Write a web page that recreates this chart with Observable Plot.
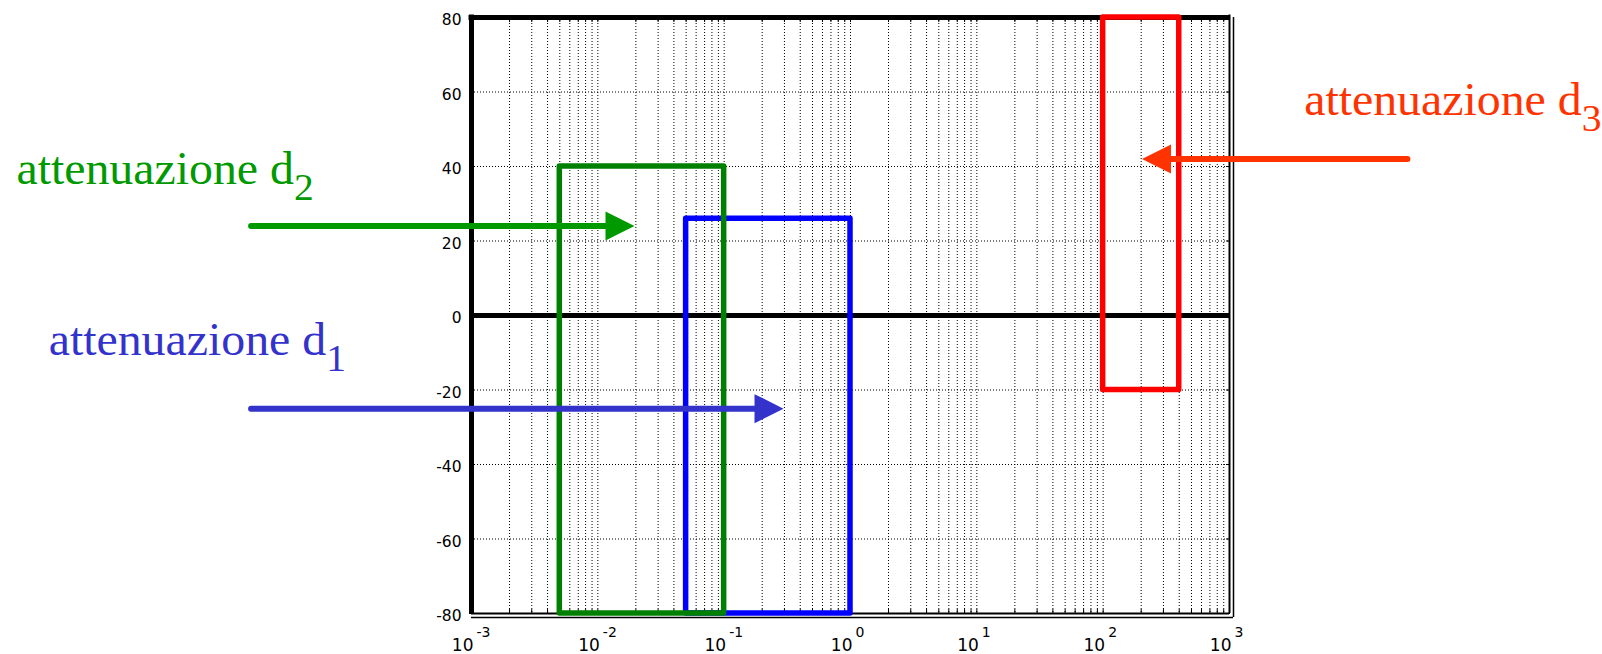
<!DOCTYPE html>
<html><head><meta charset="utf-8">
<script src="https://cdn.jsdelivr.net/npm/d3@7"></script>
<script src="https://cdn.jsdelivr.net/npm/@observablehq/plot@0.6"></script>
<style>html,body{margin:0;padding:0;background:#fff;} svg{display:block;}</style>
</head><body><div id="chart"></div>
<script>
// ---- axis ticks ----
const decades = [1e-3, 1e-2, 1e-1, 1, 10, 100, 1000];
const exponents = ["-3", "-2", "-1", "0", "1", "2", "3"];
const minorMultipliers = [1, 2, 3, 4, 5, 6, 7, 8, 9];
const yTicks = [-80, -60, -40, -20, 0, 20, 40, 60, 80];

// ---- attenuation bands (rectangles) ----
const bandNames = ["d1", "d2", "d3"];
const bandX1 = [0.05, 0.005, 100];
const bandX2 = [1, 0.1, 400];
const bandY1 = [-80, -80, -20];
const bandY2 = [26, 40, 80];
const bandColors = ["#0000ff", "#008000", "#ff0000"];

// ---- arrows ----
const arrowFromX = [1.8e-5, 1.8e-5, 25600];
const arrowToX = [0.295, 0.0195, 203];
const arrowY = [-25, 24, 42];
const arrowColors = ["#3333cc", "#009900", "#ff3300"];
const arrowRotate = [0, 0, 180];

// ---- annotation labels ----
const labelText = ["attenuazione d", "attenuazione d", "attenuazione d"];
const labelSub = ["1", "2", "3"];
const labelX = [4.5e-7, 2.5e-7, 3900];
const labelY = [-10.5, 35.4, 53.9];
const labelColors = ["#3333cc", "#009900", "#ff3300"];

// tables
const xGrid = decades.slice(0, -1).flatMap(d => minorMultipliers.map(m => m * d)).concat([decades[decades.length - 1]]);
const bands = bandNames.map((n, i) => ({name: n, x1: bandX1[i], x2: bandX2[i], y1: bandY1[i], y2: bandY2[i], color: bandColors[i]}));
const arrows = arrowFromX.map((f, i) => ({from: f, to: arrowToX[i], y: arrowY[i], color: arrowColors[i], rot: arrowRotate[i]}));
const labels = labelText.map((t, i) => ({text: t, sub: labelSub[i], x: labelX[i], y: labelY[i], color: labelColors[i]}));

// filled arrowhead, tip at origin pointing right
const arrowHead = {
  draw(ctx, size) {
    const r = Math.sqrt(size / Math.PI);
    ctx.moveTo(0, 0);
    ctx.lineTo(-2 * r, -r);
    ctx.lineTo(-2 * r, r);
    ctx.closePath();
  }
};

const dotted = {stroke: "#000", strokeOpacity: 1, strokeWidth: 1, strokeDasharray: "1,2"};

const chart = Plot.plot({
  width: 1602, height: 654,
  marginTop: 17, marginBottom: 41, marginLeft: 471, marginRight: 373,
  x: {type: "log", domain: [1e-3, 1e3]},
  y: {domain: [-80, 80]},
  color: {type: "identity"},
  style: {background: "white", fontFamily: "DejaVu Sans"},
  marks: [
    Plot.gridX(xGrid, dotted),
    Plot.gridY(yTicks, dotted),
    Plot.axisX(xGrid, {anchor: "bottom", tickSize: -4, tickFormat: () => "", label: null}),
    Plot.axisX(xGrid, {anchor: "top", tickSize: -4, tickFormat: () => "", label: null}),
    Plot.axisY(yTicks, {anchor: "left", tickSize: 0, tickPadding: 10, fontSize: 15.5, fontFamily: "DejaVu Sans", label: null, dy: 3, tickFormat: d => String(d)}),
    Plot.axisY(yTicks, {anchor: "right", tickSize: -4, tickFormat: () => "", label: null}),
    Plot.ruleY([0], {strokeWidth: 5}),
    Plot.ruleY([80], {strokeWidth: 5, insetLeft: -2.5}),
    Plot.ruleX([1e-3], {strokeWidth: 5, insetTop: -2.5, insetBottom: -1}),
    Plot.ruleX([1e3], {strokeWidth: 2, insetTop: -2.5}),
    Plot.ruleY([-80], {strokeWidth: 2}),
    Plot.ruleX([1e3], {strokeWidth: 1.5, dx: 4, insetBottom: -4}),
    Plot.ruleY([-80], {strokeWidth: 1.5, dy: 4, insetRight: -4}),
    Plot.rect(bands, {x1: "x1", x2: "x2", y1: "y1", y2: "y2", stroke: "color", fill: "none", strokeWidth: 5.5, strokeLinejoin: "round"}),
    Plot.arrow(arrows, {x1: "from", x2: "to", y1: "y", y2: "y", stroke: "color", strokeWidth: 6, headLength: 0, insetEnd: 15}),
    Plot.dot(arrows, {x: "to", y: "y", fill: "color", stroke: "none", r: 14.5, symbol: arrowHead, rotate: "rot"}),
    Plot.text(labels, {x: "x", y: "y", text: "text", fill: "color", fontFamily: "Liberation Serif", fontSize: 46, textAnchor: "start", lineAnchor: "bottom"}),
    Plot.text(decades, {x: d => d, frameAnchor: "bottom", text: () => "10", textAnchor: "end", lineAnchor: "bottom", dy: 37, dx: 2, fontSize: 17, fontFamily: "DejaVu Sans", fill: "#000"}),
    Plot.text(decades, {x: d => d, frameAnchor: "bottom", text: (d, i) => exponents[i], textAnchor: "start", lineAnchor: "bottom", dy: 23, dx: 5, fontSize: 14, fontFamily: "DejaVu Sans", fill: "#000"})
  ]
});

document.getElementById("chart").appendChild(chart);
const svg = chart.tagName.toLowerCase() === "svg" ? chart : chart.querySelector("svg");
const annTexts = Array.from(svg.querySelectorAll("text")).filter(el => el.textContent === labelText[0]);
annTexts.forEach((el, i) => {
  const ts = document.createElementNS("http://www.w3.org/2000/svg", "tspan");
  ts.setAttribute("dy", "16");
  ts.setAttribute("font-size", "38");
  ts.textContent = labels[i].sub;
  el.appendChild(ts);
  el.setAttribute("transform", (el.getAttribute("transform") || "") + " scale(1.04,1)");
});
</script>
</body></html>
